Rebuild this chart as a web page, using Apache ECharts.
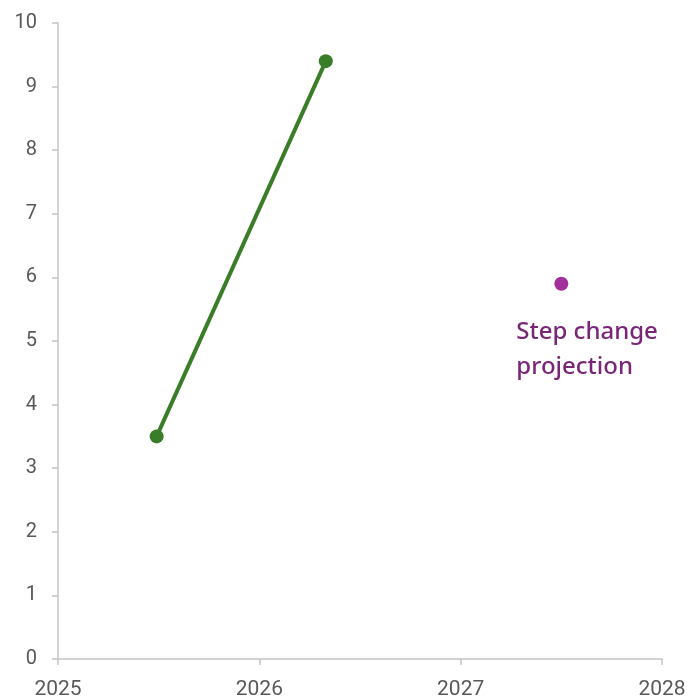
<!DOCTYPE html>
<html><head><meta charset="utf-8">
<script src="https://cdn.jsdelivr.net/npm/echarts@6/dist/echarts.min.js"></script>
<style>html,body{margin:0;padding:0;background:#fff}#c{width:689px;height:700px}</style>
</head><body><div id="c"></div>
<script>
const xTicks = [2025, 2026, 2027, 2028];
const yTicks = [0,1,2,3,4,5,6,7,8,9,10];
const actualX = [2025.49, 2026.33];
const actualY = [3.5, 9.4];
const projX = [2027.5];
const projY = [5.9];
const projLabel = 'Step change\nprojection';

const chart = echarts.init(document.getElementById('c'));
chart.setOption({
  animation: false,
  grid: {left: 58, right: 27, top: 23, bottom: 40},
  xAxis: {
    type: 'value', min: xTicks[0], max: xTicks[xTicks.length-1], interval: 1,
    axisLine: {lineStyle: {color: '#c4c4c4', width: 1.5}},
    axisTick: {show: true, length: 6, lineStyle: {color: '#c4c4c4', width: 1.5}},
    splitLine: {show: false},
    axisLabel: {color: '#595959', fontSize: 21, fontFamily: 'Roboto, sans-serif', margin: 20, formatter: v => String(v)}
  },
  yAxis: {
    type: 'value', min: yTicks[0], max: yTicks[yTicks.length-1], interval: 1,
    axisLine: {show: true, lineStyle: {color: '#c4c4c4', width: 1.5}},
    axisTick: {show: true, length: 6, lineStyle: {color: '#c4c4c4', width: 1.5}},
    splitLine: {show: false},
    axisLabel: {color: '#595959', fontSize: 20, fontFamily: 'Roboto, sans-serif', margin: 21}
  },
  series: [
    {
      type: 'line',
      data: actualX.map((x, i) => [x, actualY[i]]),
      symbol: 'circle', symbolSize: 14,
      lineStyle: {color: '#3a7d28', width: 4},
      itemStyle: {color: '#3a7d28'}
    },
    {
      type: 'scatter',
      data: projX.map((x, i) => [x, projY[i]]),
      symbol: 'circle', symbolSize: 14,
      itemStyle: {color: '#a2309a', opacity: 1},
      label: {
        show: true, position: 'bottom', formatter: projLabel,
        color: '#7a2676', fontSize: 24, fontWeight: 500, fontFamily: 'Noto Sans, sans-serif',
        lineHeight: 35, align: 'left', offset: [-45, 19]
      }
    }
  ]
});
</script></body></html>
